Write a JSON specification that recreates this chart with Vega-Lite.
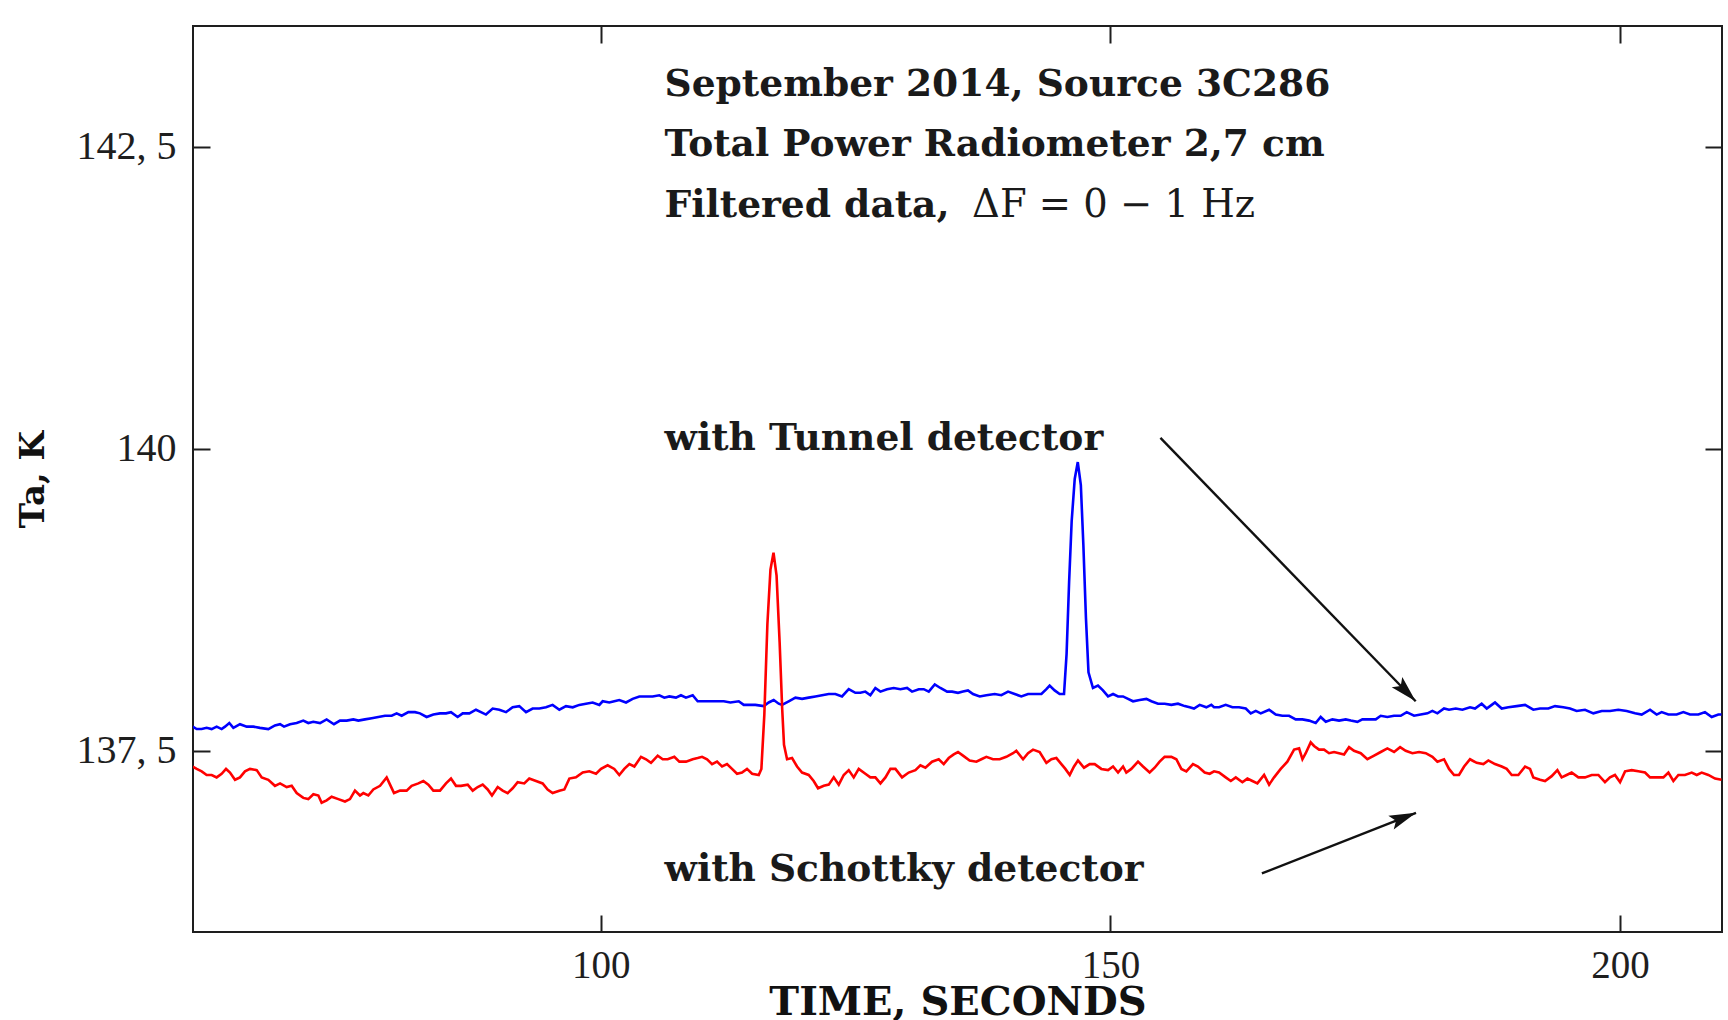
{
  "$schema": "https://vega.github.io/schema/vega-lite/v6.json",
  "width": 1529,
  "height": 906,
  "autosize": {"type": "none"},
  "padding": {"left": 193, "top": 26, "right": 6, "bottom": 88},
  "background": "white",
  "config": {
    "view": {"stroke": "#1e1e1e", "strokeWidth": 2},
    "axis": {"domain": false, "grid": false}
  },
  "datasets": {
    "series": [
      {"t":59.97,"ta":137.70,"detector":"Tunnel"},{"t":60.36,"ta":137.68,"detector":"Tunnel"},{"t":60.85,"ta":137.68,"detector":"Tunnel"},{"t":61.34,"ta":137.69,"detector":"Tunnel"},{"t":61.83,"ta":137.68,"detector":"Tunnel"},{"t":62.32,"ta":137.70,"detector":"Tunnel"},{"t":62.81,"ta":137.68,"detector":"Tunnel"},{"t":63.14,"ta":137.70,"detector":"Tunnel"},{"t":63.56,"ta":137.73,"detector":"Tunnel"},{"t":63.96,"ta":137.69,"detector":"Tunnel"},{"t":64.61,"ta":137.72,"detector":"Tunnel"},{"t":65.27,"ta":137.70,"detector":"Tunnel"},{"t":65.92,"ta":137.70,"detector":"Tunnel"},{"t":66.57,"ta":137.69,"detector":"Tunnel"},{"t":67.39,"ta":137.68,"detector":"Tunnel"},{"t":68.04,"ta":137.71,"detector":"Tunnel"},{"t":68.54,"ta":137.72,"detector":"Tunnel"},{"t":68.93,"ta":137.70,"detector":"Tunnel"},{"t":69.52,"ta":137.72,"detector":"Tunnel"},{"t":70.17,"ta":137.73,"detector":"Tunnel"},{"t":70.82,"ta":137.75,"detector":"Tunnel"},{"t":71.31,"ta":137.73,"detector":"Tunnel"},{"t":71.80,"ta":137.74,"detector":"Tunnel"},{"t":72.46,"ta":137.73,"detector":"Tunnel"},{"t":73.11,"ta":137.76,"detector":"Tunnel"},{"t":73.83,"ta":137.72,"detector":"Tunnel"},{"t":74.42,"ta":137.75,"detector":"Tunnel"},{"t":75.08,"ta":137.75,"detector":"Tunnel"},{"t":75.73,"ta":137.76,"detector":"Tunnel"},{"t":76.22,"ta":137.75,"detector":"Tunnel"},{"t":76.87,"ta":137.76,"detector":"Tunnel"},{"t":77.53,"ta":137.77,"detector":"Tunnel"},{"t":78.18,"ta":137.78,"detector":"Tunnel"},{"t":78.84,"ta":137.79,"detector":"Tunnel"},{"t":79.49,"ta":137.79,"detector":"Tunnel"},{"t":79.98,"ta":137.81,"detector":"Tunnel"},{"t":80.47,"ta":137.79,"detector":"Tunnel"},{"t":81.13,"ta":137.82,"detector":"Tunnel"},{"t":81.78,"ta":137.82,"detector":"Tunnel"},{"t":82.27,"ta":137.81,"detector":"Tunnel"},{"t":82.92,"ta":137.78,"detector":"Tunnel"},{"t":83.58,"ta":137.80,"detector":"Tunnel"},{"t":84.23,"ta":137.81,"detector":"Tunnel"},{"t":84.82,"ta":137.81,"detector":"Tunnel"},{"t":85.31,"ta":137.82,"detector":"Tunnel"},{"t":85.96,"ta":137.78,"detector":"Tunnel"},{"t":86.46,"ta":137.81,"detector":"Tunnel"},{"t":87.11,"ta":137.81,"detector":"Tunnel"},{"t":87.76,"ta":137.84,"detector":"Tunnel"},{"t":88.25,"ta":137.82,"detector":"Tunnel"},{"t":88.74,"ta":137.80,"detector":"Tunnel"},{"t":89.40,"ta":137.85,"detector":"Tunnel"},{"t":90.05,"ta":137.84,"detector":"Tunnel"},{"t":90.71,"ta":137.82,"detector":"Tunnel"},{"t":91.36,"ta":137.86,"detector":"Tunnel"},{"t":92.01,"ta":137.87,"detector":"Tunnel"},{"t":92.67,"ta":137.82,"detector":"Tunnel"},{"t":93.32,"ta":137.85,"detector":"Tunnel"},{"t":93.98,"ta":137.85,"detector":"Tunnel"},{"t":94.63,"ta":137.86,"detector":"Tunnel"},{"t":95.28,"ta":137.88,"detector":"Tunnel"},{"t":95.94,"ta":137.84,"detector":"Tunnel"},{"t":96.59,"ta":137.87,"detector":"Tunnel"},{"t":97.25,"ta":137.86,"detector":"Tunnel"},{"t":97.90,"ta":137.88,"detector":"Tunnel"},{"t":98.55,"ta":137.89,"detector":"Tunnel"},{"t":99.21,"ta":137.90,"detector":"Tunnel"},{"t":99.86,"ta":137.88,"detector":"Tunnel"},{"t":100.19,"ta":137.91,"detector":"Tunnel"},{"t":100.84,"ta":137.90,"detector":"Tunnel"},{"t":101.33,"ta":137.91,"detector":"Tunnel"},{"t":101.82,"ta":137.92,"detector":"Tunnel"},{"t":102.48,"ta":137.90,"detector":"Tunnel"},{"t":103.13,"ta":137.93,"detector":"Tunnel"},{"t":103.79,"ta":137.95,"detector":"Tunnel"},{"t":104.44,"ta":137.95,"detector":"Tunnel"},{"t":105.09,"ta":137.95,"detector":"Tunnel"},{"t":105.75,"ta":137.96,"detector":"Tunnel"},{"t":106.24,"ta":137.94,"detector":"Tunnel"},{"t":106.73,"ta":137.95,"detector":"Tunnel"},{"t":107.38,"ta":137.94,"detector":"Tunnel"},{"t":107.87,"ta":137.96,"detector":"Tunnel"},{"t":108.36,"ta":137.94,"detector":"Tunnel"},{"t":109.02,"ta":137.96,"detector":"Tunnel"},{"t":109.51,"ta":137.91,"detector":"Tunnel"},{"t":109.94,"ta":137.91,"detector":"Tunnel"},{"t":110.59,"ta":137.91,"detector":"Tunnel"},{"t":111.41,"ta":137.91,"detector":"Tunnel"},{"t":112.07,"ta":137.91,"detector":"Tunnel"},{"t":112.72,"ta":137.90,"detector":"Tunnel"},{"t":113.54,"ta":137.91,"detector":"Tunnel"},{"t":114.03,"ta":137.88,"detector":"Tunnel"},{"t":114.68,"ta":137.88,"detector":"Tunnel"},{"t":115.17,"ta":137.88,"detector":"Tunnel"},{"t":115.99,"ta":137.87,"detector":"Tunnel"},{"t":116.48,"ta":137.90,"detector":"Tunnel"},{"t":116.97,"ta":137.92,"detector":"Tunnel"},{"t":117.46,"ta":137.89,"detector":"Tunnel"},{"t":117.79,"ta":137.88,"detector":"Tunnel"},{"t":118.44,"ta":137.91,"detector":"Tunnel"},{"t":119.10,"ta":137.94,"detector":"Tunnel"},{"t":119.75,"ta":137.93,"detector":"Tunnel"},{"t":120.40,"ta":137.94,"detector":"Tunnel"},{"t":121.06,"ta":137.95,"detector":"Tunnel"},{"t":121.71,"ta":137.96,"detector":"Tunnel"},{"t":122.37,"ta":137.97,"detector":"Tunnel"},{"t":123.02,"ta":137.97,"detector":"Tunnel"},{"t":123.67,"ta":137.95,"detector":"Tunnel"},{"t":124.33,"ta":138.01,"detector":"Tunnel"},{"t":124.98,"ta":137.98,"detector":"Tunnel"},{"t":125.47,"ta":137.98,"detector":"Tunnel"},{"t":125.96,"ta":137.99,"detector":"Tunnel"},{"t":126.45,"ta":137.96,"detector":"Tunnel"},{"t":126.94,"ta":138.02,"detector":"Tunnel"},{"t":127.44,"ta":137.99,"detector":"Tunnel"},{"t":128.09,"ta":138.01,"detector":"Tunnel"},{"t":128.74,"ta":138.02,"detector":"Tunnel"},{"t":129.40,"ta":138.01,"detector":"Tunnel"},{"t":130.05,"ta":138.02,"detector":"Tunnel"},{"t":130.54,"ta":137.99,"detector":"Tunnel"},{"t":131.20,"ta":138.01,"detector":"Tunnel"},{"t":131.69,"ta":138.01,"detector":"Tunnel"},{"t":132.18,"ta":137.99,"detector":"Tunnel"},{"t":132.77,"ta":138.05,"detector":"Tunnel"},{"t":133.32,"ta":138.02,"detector":"Tunnel"},{"t":133.98,"ta":137.99,"detector":"Tunnel"},{"t":134.47,"ta":137.99,"detector":"Tunnel"},{"t":135.05,"ta":137.98,"detector":"Tunnel"},{"t":135.54,"ta":137.99,"detector":"Tunnel"},{"t":136.03,"ta":138.00,"detector":"Tunnel"},{"t":136.52,"ta":137.97,"detector":"Tunnel"},{"t":137.18,"ta":137.95,"detector":"Tunnel"},{"t":137.83,"ta":137.96,"detector":"Tunnel"},{"t":138.65,"ta":137.97,"detector":"Tunnel"},{"t":139.30,"ta":137.96,"detector":"Tunnel"},{"t":139.96,"ta":137.99,"detector":"Tunnel"},{"t":140.61,"ta":137.97,"detector":"Tunnel"},{"t":141.26,"ta":137.95,"detector":"Tunnel"},{"t":141.92,"ta":137.97,"detector":"Tunnel"},{"t":142.57,"ta":137.97,"detector":"Tunnel"},{"t":143.23,"ta":137.97,"detector":"Tunnel"},{"t":143.72,"ta":138.01,"detector":"Tunnel"},{"t":144.04,"ta":138.04,"detector":"Tunnel"},{"t":144.53,"ta":138.00,"detector":"Tunnel"},{"t":145.02,"ta":137.97,"detector":"Tunnel"},{"t":145.45,"ta":137.97,"detector":"Tunnel"},{"t":145.7,"ta":138.3,"detector":"Tunnel"},{"t":145.95,"ta":138.9,"detector":"Tunnel"},{"t":146.2,"ta":139.4,"detector":"Tunnel"},{"t":146.5,"ta":139.75,"detector":"Tunnel"},{"t":146.8,"ta":139.89,"detector":"Tunnel"},{"t":147.1,"ta":139.7,"detector":"Tunnel"},{"t":147.35,"ta":139.2,"detector":"Tunnel"},{"t":147.6,"ta":138.6,"detector":"Tunnel"},{"t":147.85,"ta":138.15,"detector":"Tunnel"},{"t":148.29,"ta":138.02,"detector":"Tunnel"},{"t":148.78,"ta":138.04,"detector":"Tunnel"},{"t":149.27,"ta":138.00,"detector":"Tunnel"},{"t":149.77,"ta":137.95,"detector":"Tunnel"},{"t":150.26,"ta":137.97,"detector":"Tunnel"},{"t":150.75,"ta":137.95,"detector":"Tunnel"},{"t":151.24,"ta":137.95,"detector":"Tunnel"},{"t":151.73,"ta":137.93,"detector":"Tunnel"},{"t":152.22,"ta":137.91,"detector":"Tunnel"},{"t":152.87,"ta":137.92,"detector":"Tunnel"},{"t":153.53,"ta":137.93,"detector":"Tunnel"},{"t":154.02,"ta":137.91,"detector":"Tunnel"},{"t":154.67,"ta":137.89,"detector":"Tunnel"},{"t":155.32,"ta":137.89,"detector":"Tunnel"},{"t":155.98,"ta":137.88,"detector":"Tunnel"},{"t":156.63,"ta":137.89,"detector":"Tunnel"},{"t":157.29,"ta":137.87,"detector":"Tunnel"},{"t":157.78,"ta":137.86,"detector":"Tunnel"},{"t":158.20,"ta":137.85,"detector":"Tunnel"},{"t":158.76,"ta":137.88,"detector":"Tunnel"},{"t":159.41,"ta":137.86,"detector":"Tunnel"},{"t":159.90,"ta":137.88,"detector":"Tunnel"},{"t":160.17,"ta":137.86,"detector":"Tunnel"},{"t":160.66,"ta":137.86,"detector":"Tunnel"},{"t":161.31,"ta":137.88,"detector":"Tunnel"},{"t":161.97,"ta":137.86,"detector":"Tunnel"},{"t":162.62,"ta":137.86,"detector":"Tunnel"},{"t":163.28,"ta":137.85,"detector":"Tunnel"},{"t":163.77,"ta":137.81,"detector":"Tunnel"},{"t":164.26,"ta":137.83,"detector":"Tunnel"},{"t":164.75,"ta":137.81,"detector":"Tunnel"},{"t":165.57,"ta":137.84,"detector":"Tunnel"},{"t":166.22,"ta":137.80,"detector":"Tunnel"},{"t":166.87,"ta":137.79,"detector":"Tunnel"},{"t":167.53,"ta":137.79,"detector":"Tunnel"},{"t":168.18,"ta":137.76,"detector":"Tunnel"},{"t":168.84,"ta":137.76,"detector":"Tunnel"},{"t":169.49,"ta":137.75,"detector":"Tunnel"},{"t":170.14,"ta":137.73,"detector":"Tunnel"},{"t":170.63,"ta":137.78,"detector":"Tunnel"},{"t":171.13,"ta":137.74,"detector":"Tunnel"},{"t":171.78,"ta":137.76,"detector":"Tunnel"},{"t":172.43,"ta":137.75,"detector":"Tunnel"},{"t":173.09,"ta":137.76,"detector":"Tunnel"},{"t":173.58,"ta":137.75,"detector":"Tunnel"},{"t":174.23,"ta":137.74,"detector":"Tunnel"},{"t":174.72,"ta":137.76,"detector":"Tunnel"},{"t":175.38,"ta":137.76,"detector":"Tunnel"},{"t":176.03,"ta":137.76,"detector":"Tunnel"},{"t":176.52,"ta":137.79,"detector":"Tunnel"},{"t":177.17,"ta":137.78,"detector":"Tunnel"},{"t":177.83,"ta":137.79,"detector":"Tunnel"},{"t":178.48,"ta":137.79,"detector":"Tunnel"},{"t":179.07,"ta":137.82,"detector":"Tunnel"},{"t":179.79,"ta":137.79,"detector":"Tunnel"},{"t":180.44,"ta":137.80,"detector":"Tunnel"},{"t":181.10,"ta":137.81,"detector":"Tunnel"},{"t":181.59,"ta":137.83,"detector":"Tunnel"},{"t":182.08,"ta":137.81,"detector":"Tunnel"},{"t":182.73,"ta":137.85,"detector":"Tunnel"},{"t":183.22,"ta":137.84,"detector":"Tunnel"},{"t":183.88,"ta":137.85,"detector":"Tunnel"},{"t":184.53,"ta":137.84,"detector":"Tunnel"},{"t":185.28,"ta":137.86,"detector":"Tunnel"},{"t":185.77,"ta":137.85,"detector":"Tunnel"},{"t":186.42,"ta":137.89,"detector":"Tunnel"},{"t":186.92,"ta":137.85,"detector":"Tunnel"},{"t":187.41,"ta":137.88,"detector":"Tunnel"},{"t":187.73,"ta":137.90,"detector":"Tunnel"},{"t":188.39,"ta":137.85,"detector":"Tunnel"},{"t":189.04,"ta":137.86,"detector":"Tunnel"},{"t":189.86,"ta":137.87,"detector":"Tunnel"},{"t":190.68,"ta":137.88,"detector":"Tunnel"},{"t":191.49,"ta":137.84,"detector":"Tunnel"},{"t":192.15,"ta":137.85,"detector":"Tunnel"},{"t":192.96,"ta":137.85,"detector":"Tunnel"},{"t":193.62,"ta":137.87,"detector":"Tunnel"},{"t":194.44,"ta":137.86,"detector":"Tunnel"},{"t":195.09,"ta":137.85,"detector":"Tunnel"},{"t":195.74,"ta":137.83,"detector":"Tunnel"},{"t":196.56,"ta":137.84,"detector":"Tunnel"},{"t":197.38,"ta":137.81,"detector":"Tunnel"},{"t":198.20,"ta":137.83,"detector":"Tunnel"},{"t":199.01,"ta":137.83,"detector":"Tunnel"},{"t":199.83,"ta":137.84,"detector":"Tunnel"},{"t":200.65,"ta":137.83,"detector":"Tunnel"},{"t":201.47,"ta":137.81,"detector":"Tunnel"},{"t":202.12,"ta":137.80,"detector":"Tunnel"},{"t":202.94,"ta":137.84,"detector":"Tunnel"},{"t":203.59,"ta":137.80,"detector":"Tunnel"},{"t":204.08,"ta":137.82,"detector":"Tunnel"},{"t":204.74,"ta":137.80,"detector":"Tunnel"},{"t":205.55,"ta":137.80,"detector":"Tunnel"},{"t":206.21,"ta":137.82,"detector":"Tunnel"},{"t":206.86,"ta":137.80,"detector":"Tunnel"},{"t":207.68,"ta":137.80,"detector":"Tunnel"},{"t":208.33,"ta":137.82,"detector":"Tunnel"},{"t":208.99,"ta":137.78,"detector":"Tunnel"},{"t":209.64,"ta":137.80,"detector":"Tunnel"},{"t":209.95,"ta":137.80,"detector":"Tunnel"},
      {"t":59.97,"ta":137.37,"detector":"Schottky"},{"t":60.36,"ta":137.35,"detector":"Schottky"},{"t":60.85,"ta":137.33,"detector":"Schottky"},{"t":61.34,"ta":137.30,"detector":"Schottky"},{"t":61.83,"ta":137.30,"detector":"Schottky"},{"t":62.32,"ta":137.28,"detector":"Schottky"},{"t":62.81,"ta":137.31,"detector":"Schottky"},{"t":63.24,"ta":137.35,"detector":"Schottky"},{"t":63.63,"ta":137.32,"detector":"Schottky"},{"t":64.12,"ta":137.26,"detector":"Schottky"},{"t":64.61,"ta":137.28,"detector":"Schottky"},{"t":65.10,"ta":137.33,"detector":"Schottky"},{"t":65.59,"ta":137.35,"detector":"Schottky"},{"t":66.25,"ta":137.34,"detector":"Schottky"},{"t":66.74,"ta":137.28,"detector":"Schottky"},{"t":67.39,"ta":137.26,"detector":"Schottky"},{"t":68.04,"ta":137.21,"detector":"Schottky"},{"t":68.54,"ta":137.23,"detector":"Schottky"},{"t":69.19,"ta":137.20,"detector":"Schottky"},{"t":69.68,"ta":137.21,"detector":"Schottky"},{"t":70.17,"ta":137.15,"detector":"Schottky"},{"t":70.82,"ta":137.11,"detector":"Schottky"},{"t":71.31,"ta":137.10,"detector":"Schottky"},{"t":71.81,"ta":137.14,"detector":"Schottky"},{"t":72.30,"ta":137.13,"detector":"Schottky"},{"t":72.62,"ta":137.07,"detector":"Schottky"},{"t":73.11,"ta":137.09,"detector":"Schottky"},{"t":73.60,"ta":137.12,"detector":"Schottky"},{"t":74.26,"ta":137.10,"detector":"Schottky"},{"t":74.91,"ta":137.08,"detector":"Schottky"},{"t":75.40,"ta":137.10,"detector":"Schottky"},{"t":75.89,"ta":137.17,"detector":"Schottky"},{"t":76.38,"ta":137.13,"detector":"Schottky"},{"t":76.71,"ta":137.15,"detector":"Schottky"},{"t":77.20,"ta":137.13,"detector":"Schottky"},{"t":77.69,"ta":137.18,"detector":"Schottky"},{"t":78.35,"ta":137.21,"detector":"Schottky"},{"t":79.00,"ta":137.28,"detector":"Schottky"},{"t":79.33,"ta":137.22,"detector":"Schottky"},{"t":79.72,"ta":137.15,"detector":"Schottky"},{"t":80.31,"ta":137.17,"detector":"Schottky"},{"t":80.96,"ta":137.17,"detector":"Schottky"},{"t":81.45,"ta":137.21,"detector":"Schottky"},{"t":82.11,"ta":137.23,"detector":"Schottky"},{"t":82.60,"ta":137.25,"detector":"Schottky"},{"t":83.09,"ta":137.22,"detector":"Schottky"},{"t":83.58,"ta":137.17,"detector":"Schottky"},{"t":84.23,"ta":137.17,"detector":"Schottky"},{"t":84.82,"ta":137.23,"detector":"Schottky"},{"t":85.31,"ta":137.27,"detector":"Schottky"},{"t":85.80,"ta":137.21,"detector":"Schottky"},{"t":86.29,"ta":137.21,"detector":"Schottky"},{"t":86.95,"ta":137.22,"detector":"Schottky"},{"t":87.44,"ta":137.17,"detector":"Schottky"},{"t":87.93,"ta":137.20,"detector":"Schottky"},{"t":88.42,"ta":137.22,"detector":"Schottky"},{"t":88.91,"ta":137.18,"detector":"Schottky"},{"t":89.33,"ta":137.13,"detector":"Schottky"},{"t":89.89,"ta":137.20,"detector":"Schottky"},{"t":90.38,"ta":137.17,"detector":"Schottky"},{"t":90.87,"ta":137.15,"detector":"Schottky"},{"t":91.36,"ta":137.19,"detector":"Schottky"},{"t":91.85,"ta":137.24,"detector":"Schottky"},{"t":92.50,"ta":137.23,"detector":"Schottky"},{"t":92.99,"ta":137.27,"detector":"Schottky"},{"t":93.65,"ta":137.25,"detector":"Schottky"},{"t":94.30,"ta":137.23,"detector":"Schottky"},{"t":94.79,"ta":137.18,"detector":"Schottky"},{"t":95.28,"ta":137.15,"detector":"Schottky"},{"t":95.94,"ta":137.17,"detector":"Schottky"},{"t":96.43,"ta":137.18,"detector":"Schottky"},{"t":96.92,"ta":137.27,"detector":"Schottky"},{"t":97.57,"ta":137.28,"detector":"Schottky"},{"t":98.23,"ta":137.32,"detector":"Schottky"},{"t":98.88,"ta":137.33,"detector":"Schottky"},{"t":99.54,"ta":137.31,"detector":"Schottky"},{"t":100.03,"ta":137.35,"detector":"Schottky"},{"t":100.68,"ta":137.38,"detector":"Schottky"},{"t":101.33,"ta":137.35,"detector":"Schottky"},{"t":101.82,"ta":137.30,"detector":"Schottky"},{"t":102.31,"ta":137.35,"detector":"Schottky"},{"t":102.81,"ta":137.39,"detector":"Schottky"},{"t":103.30,"ta":137.37,"detector":"Schottky"},{"t":103.95,"ta":137.45,"detector":"Schottky"},{"t":104.44,"ta":137.43,"detector":"Schottky"},{"t":104.93,"ta":137.40,"detector":"Schottky"},{"t":105.59,"ta":137.46,"detector":"Schottky"},{"t":106.08,"ta":137.43,"detector":"Schottky"},{"t":106.57,"ta":137.43,"detector":"Schottky"},{"t":107.22,"ta":137.45,"detector":"Schottky"},{"t":107.71,"ta":137.41,"detector":"Schottky"},{"t":108.37,"ta":137.41,"detector":"Schottky"},{"t":109.02,"ta":137.43,"detector":"Schottky"},{"t":109.51,"ta":137.44,"detector":"Schottky"},{"t":109.94,"ta":137.45,"detector":"Schottky"},{"t":110.43,"ta":137.43,"detector":"Schottky"},{"t":110.92,"ta":137.39,"detector":"Schottky"},{"t":111.41,"ta":137.41,"detector":"Schottky"},{"t":111.90,"ta":137.37,"detector":"Schottky"},{"t":112.39,"ta":137.39,"detector":"Schottky"},{"t":112.88,"ta":137.35,"detector":"Schottky"},{"t":113.37,"ta":137.31,"detector":"Schottky"},{"t":113.86,"ta":137.32,"detector":"Schottky"},{"t":114.35,"ta":137.35,"detector":"Schottky"},{"t":114.85,"ta":137.31,"detector":"Schottky"},{"t":115.50,"ta":137.30,"detector":"Schottky"},{"t":115.76,"ta":137.35,"detector":"Schottky"},{"t":116.05,"ta":137.8,"detector":"Schottky"},{"t":116.35,"ta":138.55,"detector":"Schottky"},{"t":116.65,"ta":139.0,"detector":"Schottky"},{"t":116.95,"ta":139.14,"detector":"Schottky"},{"t":117.25,"ta":138.95,"detector":"Schottky"},{"t":117.55,"ta":138.4,"detector":"Schottky"},{"t":117.8,"ta":137.85,"detector":"Schottky"},{"t":117.98,"ta":137.55,"detector":"Schottky"},{"t":118.28,"ta":137.43,"detector":"Schottky"},{"t":118.77,"ta":137.44,"detector":"Schottky"},{"t":119.26,"ta":137.37,"detector":"Schottky"},{"t":119.75,"ta":137.32,"detector":"Schottky"},{"t":120.40,"ta":137.30,"detector":"Schottky"},{"t":120.89,"ta":137.25,"detector":"Schottky"},{"t":121.32,"ta":137.19,"detector":"Schottky"},{"t":121.88,"ta":137.21,"detector":"Schottky"},{"t":122.37,"ta":137.22,"detector":"Schottky"},{"t":122.86,"ta":137.28,"detector":"Schottky"},{"t":123.35,"ta":137.22,"detector":"Schottky"},{"t":123.84,"ta":137.30,"detector":"Schottky"},{"t":124.33,"ta":137.34,"detector":"Schottky"},{"t":124.82,"ta":137.28,"detector":"Schottky"},{"t":125.31,"ta":137.35,"detector":"Schottky"},{"t":125.96,"ta":137.31,"detector":"Schottky"},{"t":126.45,"ta":137.28,"detector":"Schottky"},{"t":126.94,"ta":137.28,"detector":"Schottky"},{"t":127.44,"ta":137.23,"detector":"Schottky"},{"t":127.93,"ta":137.28,"detector":"Schottky"},{"t":128.42,"ta":137.35,"detector":"Schottky"},{"t":128.91,"ta":137.35,"detector":"Schottky"},{"t":129.56,"ta":137.28,"detector":"Schottky"},{"t":130.21,"ta":137.32,"detector":"Schottky"},{"t":130.87,"ta":137.34,"detector":"Schottky"},{"t":131.36,"ta":137.38,"detector":"Schottky"},{"t":131.85,"ta":137.36,"detector":"Schottky"},{"t":132.50,"ta":137.41,"detector":"Schottky"},{"t":133.16,"ta":137.43,"detector":"Schottky"},{"t":133.65,"ta":137.39,"detector":"Schottky"},{"t":134.14,"ta":137.44,"detector":"Schottky"},{"t":134.63,"ta":137.47,"detector":"Schottky"},{"t":135.05,"ta":137.49,"detector":"Schottky"},{"t":135.54,"ta":137.46,"detector":"Schottky"},{"t":136.19,"ta":137.42,"detector":"Schottky"},{"t":136.85,"ta":137.41,"detector":"Schottky"},{"t":137.34,"ta":137.43,"detector":"Schottky"},{"t":137.83,"ta":137.45,"detector":"Schottky"},{"t":138.48,"ta":137.43,"detector":"Schottky"},{"t":139.14,"ta":137.43,"detector":"Schottky"},{"t":139.79,"ta":137.45,"detector":"Schottky"},{"t":140.45,"ta":137.48,"detector":"Schottky"},{"t":140.77,"ta":137.50,"detector":"Schottky"},{"t":141.43,"ta":137.43,"detector":"Schottky"},{"t":141.92,"ta":137.48,"detector":"Schottky"},{"t":142.41,"ta":137.51,"detector":"Schottky"},{"t":143.06,"ta":137.49,"detector":"Schottky"},{"t":143.72,"ta":137.40,"detector":"Schottky"},{"t":144.21,"ta":137.43,"detector":"Schottky"},{"t":144.70,"ta":137.44,"detector":"Schottky"},{"t":145.19,"ta":137.39,"detector":"Schottky"},{"t":145.58,"ta":137.35,"detector":"Schottky"},{"t":146.01,"ta":137.30,"detector":"Schottky"},{"t":146.43,"ta":137.37,"detector":"Schottky"},{"t":146.82,"ta":137.42,"detector":"Schottky"},{"t":147.41,"ta":137.36,"detector":"Schottky"},{"t":147.97,"ta":137.39,"detector":"Schottky"},{"t":148.46,"ta":137.39,"detector":"Schottky"},{"t":149.11,"ta":137.35,"detector":"Schottky"},{"t":149.77,"ta":137.34,"detector":"Schottky"},{"t":150.26,"ta":137.37,"detector":"Schottky"},{"t":150.75,"ta":137.32,"detector":"Schottky"},{"t":151.24,"ta":137.37,"detector":"Schottky"},{"t":151.56,"ta":137.32,"detector":"Schottky"},{"t":152.05,"ta":137.35,"detector":"Schottky"},{"t":152.71,"ta":137.41,"detector":"Schottky"},{"t":153.20,"ta":137.37,"detector":"Schottky"},{"t":153.85,"ta":137.32,"detector":"Schottky"},{"t":154.34,"ta":137.36,"detector":"Schottky"},{"t":154.83,"ta":137.41,"detector":"Schottky"},{"t":155.32,"ta":137.45,"detector":"Schottky"},{"t":155.98,"ta":137.45,"detector":"Schottky"},{"t":156.47,"ta":137.43,"detector":"Schottky"},{"t":156.96,"ta":137.35,"detector":"Schottky"},{"t":157.45,"ta":137.33,"detector":"Schottky"},{"t":158.10,"ta":137.39,"detector":"Schottky"},{"t":158.59,"ta":137.37,"detector":"Schottky"},{"t":159.25,"ta":137.32,"detector":"Schottky"},{"t":159.74,"ta":137.31,"detector":"Schottky"},{"t":160.17,"ta":137.33,"detector":"Schottky"},{"t":160.66,"ta":137.32,"detector":"Schottky"},{"t":161.31,"ta":137.28,"detector":"Schottky"},{"t":161.81,"ta":137.25,"detector":"Schottky"},{"t":162.30,"ta":137.28,"detector":"Schottky"},{"t":162.95,"ta":137.24,"detector":"Schottky"},{"t":163.44,"ta":137.27,"detector":"Schottky"},{"t":163.93,"ta":137.25,"detector":"Schottky"},{"t":164.42,"ta":137.23,"detector":"Schottky"},{"t":165.08,"ta":137.30,"detector":"Schottky"},{"t":165.57,"ta":137.22,"detector":"Schottky"},{"t":166.06,"ta":137.28,"detector":"Schottky"},{"t":166.71,"ta":137.35,"detector":"Schottky"},{"t":167.36,"ta":137.41,"detector":"Schottky"},{"t":168.02,"ta":137.51,"detector":"Schottky"},{"t":168.51,"ta":137.52,"detector":"Schottky"},{"t":168.84,"ta":137.43,"detector":"Schottky"},{"t":169.16,"ta":137.48,"detector":"Schottky"},{"t":169.65,"ta":137.57,"detector":"Schottky"},{"t":169.98,"ta":137.54,"detector":"Schottky"},{"t":170.47,"ta":137.51,"detector":"Schottky"},{"t":170.96,"ta":137.51,"detector":"Schottky"},{"t":171.45,"ta":137.48,"detector":"Schottky"},{"t":171.94,"ta":137.49,"detector":"Schottky"},{"t":172.43,"ta":137.48,"detector":"Schottky"},{"t":172.92,"ta":137.47,"detector":"Schottky"},{"t":173.41,"ta":137.53,"detector":"Schottky"},{"t":173.90,"ta":137.50,"detector":"Schottky"},{"t":174.56,"ta":137.48,"detector":"Schottky"},{"t":175.21,"ta":137.43,"detector":"Schottky"},{"t":175.87,"ta":137.46,"detector":"Schottky"},{"t":176.52,"ta":137.49,"detector":"Schottky"},{"t":177.17,"ta":137.52,"detector":"Schottky"},{"t":177.83,"ta":137.49,"detector":"Schottky"},{"t":178.42,"ta":137.53,"detector":"Schottky"},{"t":178.97,"ta":137.50,"detector":"Schottky"},{"t":179.63,"ta":137.48,"detector":"Schottky"},{"t":180.28,"ta":137.49,"detector":"Schottky"},{"t":180.94,"ta":137.48,"detector":"Schottky"},{"t":181.59,"ta":137.45,"detector":"Schottky"},{"t":182.08,"ta":137.41,"detector":"Schottky"},{"t":182.73,"ta":137.43,"detector":"Schottky"},{"t":183.22,"ta":137.35,"detector":"Schottky"},{"t":183.71,"ta":137.30,"detector":"Schottky"},{"t":184.20,"ta":137.30,"detector":"Schottky"},{"t":184.70,"ta":137.37,"detector":"Schottky"},{"t":185.28,"ta":137.43,"detector":"Schottky"},{"t":185.93,"ta":137.40,"detector":"Schottky"},{"t":186.59,"ta":137.39,"detector":"Schottky"},{"t":187.08,"ta":137.42,"detector":"Schottky"},{"t":187.73,"ta":137.39,"detector":"Schottky"},{"t":188.39,"ta":137.37,"detector":"Schottky"},{"t":188.88,"ta":137.35,"detector":"Schottky"},{"t":189.37,"ta":137.30,"detector":"Schottky"},{"t":190.02,"ta":137.30,"detector":"Schottky"},{"t":190.68,"ta":137.37,"detector":"Schottky"},{"t":191.17,"ta":137.35,"detector":"Schottky"},{"t":191.49,"ta":137.28,"detector":"Schottky"},{"t":192.15,"ta":137.26,"detector":"Schottky"},{"t":192.64,"ta":137.25,"detector":"Schottky"},{"t":193.29,"ta":137.29,"detector":"Schottky"},{"t":193.85,"ta":137.34,"detector":"Schottky"},{"t":194.27,"ta":137.28,"detector":"Schottky"},{"t":194.76,"ta":137.30,"detector":"Schottky"},{"t":195.25,"ta":137.32,"detector":"Schottky"},{"t":195.91,"ta":137.28,"detector":"Schottky"},{"t":196.56,"ta":137.28,"detector":"Schottky"},{"t":197.22,"ta":137.30,"detector":"Schottky"},{"t":197.87,"ta":137.30,"detector":"Schottky"},{"t":198.52,"ta":137.24,"detector":"Schottky"},{"t":199.01,"ta":137.28,"detector":"Schottky"},{"t":199.50,"ta":137.30,"detector":"Schottky"},{"t":200.00,"ta":137.24,"detector":"Schottky"},{"t":200.49,"ta":137.33,"detector":"Schottky"},{"t":201.14,"ta":137.34,"detector":"Schottky"},{"t":201.79,"ta":137.33,"detector":"Schottky"},{"t":202.45,"ta":137.32,"detector":"Schottky"},{"t":202.94,"ta":137.28,"detector":"Schottky"},{"t":203.59,"ta":137.28,"detector":"Schottky"},{"t":204.25,"ta":137.28,"detector":"Schottky"},{"t":204.74,"ta":137.32,"detector":"Schottky"},{"t":205.23,"ta":137.25,"detector":"Schottky"},{"t":205.72,"ta":137.30,"detector":"Schottky"},{"t":206.37,"ta":137.30,"detector":"Schottky"},{"t":207.03,"ta":137.32,"detector":"Schottky"},{"t":207.52,"ta":137.30,"detector":"Schottky"},{"t":208.01,"ta":137.32,"detector":"Schottky"},{"t":208.66,"ta":137.30,"detector":"Schottky"},{"t":209.32,"ta":137.27,"detector":"Schottky"},{"t":209.95,"ta":137.26,"detector":"Schottky"}
    ],
    "boldNotes": [
      {"label": "September 2014, Source 3C286", "x": 106.26, "y": 142.92},
      {"label": "Total Power Radiometer 2,7 cm", "x": 106.26, "y": 142.42},
      {"label": "Filtered data,", "x": 106.26, "y": 141.92},
      {"label": "with Tunnel detector", "x": 106.26, "y": 139.99},
      {"label": "with Schottky detector", "x": 106.26, "y": 136.42}
    ],
    "mathNotes": [
      {"label": "ΔF = 0 − 1 Hz", "x": 136.43, "y": 141.92}
    ],
    "arrows": [
      {"arrow": "Tunnel", "x1": 154.91, "y1": 140.09, "x2": 179.95, "y2": 137.91},
      {"arrow": "Schottky", "x1": 164.86, "y1": 136.485, "x2": 179.98, "y2": 136.987}
    ]
  },
  "layer": [
    {
      "data": {"name": "series"},
      "mark": {"type": "line", "strokeWidth": 2.6, "clip": true, "interpolate": "linear"},
      "encoding": {
        "x": {
          "field": "t", "type": "quantitative",
          "scale": {"domain": [60, 210], "nice": false, "zero": false},
          "axis": {
            "orient": "bottom", "values": [100, 150, 200], "tickSize": -17, "tickWidth": 2, "tickColor": "#1e1e1e",
            "labelFont": "Liberation Serif", "labelFontSize": 39, "labelColor": "#1e1e1e", "labelPadding": 31,
            "labelFlush": false, "labelOverlap": false,
            "title": "TIME, SECONDS", "titleFont": "DejaVu Serif", "titleFontWeight": "bold", "titleFontSize": 40,
            "titleColor": "#111111", "titleY": 70, "titleBaseline": "middle"
          }
        },
        "y": {
          "field": "ta", "type": "quantitative",
          "scale": {"domain": [136, 143.5], "nice": false, "zero": false},
          "axis": {
            "orient": "left", "values": [137.5, 140, 142.5], "tickSize": -17, "tickWidth": 2, "tickColor": "#1e1e1e",
            "labelExpr": "datum.value % 1 == 0 ? format(datum.value, 'd') : replace(format(datum.value, '.1f'), '.', ', ')",
            "labelFont": "Liberation Serif", "labelFontSize": 40, "labelColor": "#1e1e1e", "labelPadding": 34,
            "labelFlush": false, "labelOverlap": false,
            "title": "Ta, K", "titleFont": "DejaVu Serif", "titleFontWeight": "bold", "titleFontSize": 34,
            "titleColor": "#111111", "titleAngle": -90, "titleX": -160, "titleY": 453, "titleAlign": "center", "titleBaseline": "middle"
          }
        },
        "color": {
          "field": "detector", "type": "nominal",
          "scale": {"domain": ["Tunnel", "Schottky"], "range": ["#0000ff", "#ff0000"]},
          "legend": null
        }
      }
    },
    {
      "data": {"name": "boldNotes"},
      "mark": {"type": "text", "align": "left", "baseline": "alphabetic", "font": "DejaVu Serif", "fontWeight": "bold", "fontSize": 37.6, "color": "#1a1a1a"},
      "encoding": {
        "x": {"field": "x", "type": "quantitative", "axis": {"orient": "top", "values": [100, 150, 200], "tickSize": -17, "tickWidth": 2, "tickColor": "#1e1e1e", "labels": false, "title": null}},
        "y": {"field": "y", "type": "quantitative", "axis": {"orient": "right", "values": [137.5, 140, 142.5], "tickSize": -17, "tickWidth": 2, "tickColor": "#1e1e1e", "labels": false, "title": null}},
        "text": {"field": "label"}
      }
    },
    {
      "data": {"name": "mathNotes"},
      "mark": {"type": "text", "align": "left", "baseline": "alphabetic", "font": "DejaVu Serif", "fontSize": 38.5, "color": "#1a1a1a"},
      "encoding": {
        "x": {"field": "x", "type": "quantitative", "axis": null},
        "y": {"field": "y", "type": "quantitative", "axis": null},
        "text": {"field": "label"}
      }
    },
    {
      "data": {"name": "arrows"},
      "mark": {"type": "rule", "strokeWidth": 2.4, "color": "#111111"},
      "encoding": {
        "x": {"field": "x1", "type": "quantitative", "axis": null},
        "y": {"field": "y1", "type": "quantitative", "axis": null},
        "x2": {"field": "x2"},
        "y2": {"field": "y2"}
      }
    },
    {
      "data": {"name": "arrows"},
      "transform": [{"filter": "datum.arrow == 'Tunnel'"}],
      "mark": {"type": "point", "shape": "M0,0L-0.55,2L0,1.6L0.55,2Z", "size": 720, "filled": true, "color": "#111111", "strokeWidth": 0, "opacity": 1},
      "encoding": {
        "x": {"field": "x2", "type": "quantitative", "axis": null},
        "y": {"field": "y2", "type": "quantitative", "axis": null},
        "angle": {"value": 135.8}
      }
    },
    {
      "data": {"name": "arrows"},
      "transform": [{"filter": "datum.arrow == 'Schottky'"}],
      "mark": {"type": "point", "shape": "M0,0L-0.55,2L0,1.6L0.55,2Z", "size": 720, "filled": true, "color": "#111111", "strokeWidth": 0, "opacity": 1},
      "encoding": {
        "x": {"field": "x2", "type": "quantitative", "axis": null},
        "y": {"field": "y2", "type": "quantitative", "axis": null},
        "angle": {"value": 68.5}
      }
    }
  ],
  "resolve": {"axis": {"x": "independent", "y": "independent"}}
}
